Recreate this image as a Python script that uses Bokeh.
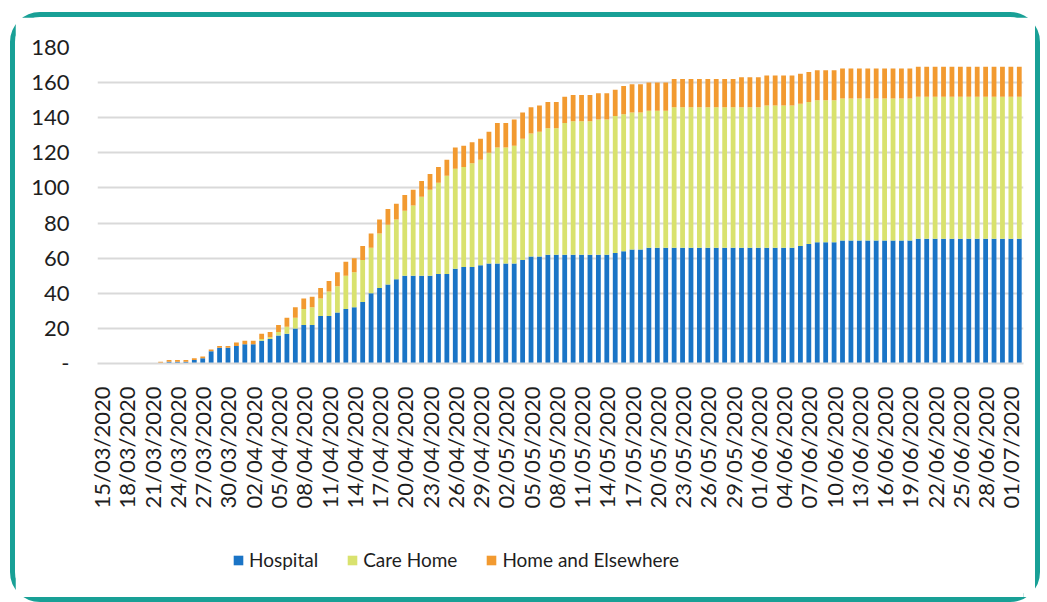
import math
import pandas as pd
from bokeh.plotting import figure
from bokeh.layouts import column
from bokeh.models import Range1d, Legend, LegendItem, ColumnDataSource, FixedTicker
from bokeh.embed import file_html
from bokeh.resources import INLINE

# ---- data (cumulative counts) ----
start_date = "2020-03-15"
hospital = [
    0, 0, 0, 0, 0, 0, 0, 0, 1, 1,
    1, 2, 3, 7, 9, 9, 10, 11, 11, 13,
    14, 16, 17, 20, 22, 22, 27, 27, 29, 31,
    32, 35, 40, 43, 45, 48, 50, 50, 50, 50,
    51, 51, 54, 55, 55, 56, 57, 57, 57, 57,
    59, 61, 61, 62, 62, 62, 62, 62, 62, 62,
    62, 63, 64, 65, 65, 66, 66, 66, 66, 66,
    66, 66, 66, 66, 66, 66, 66, 66, 66, 66,
    66, 66, 66, 67, 68, 69, 69, 69, 70, 70,
    70, 70, 70, 70, 70, 70, 70, 71, 71, 71,
    71, 71, 71, 71, 71, 71, 71, 71, 71, 71,
]
care_home = [
    0, 0, 0, 0, 0, 0, 0, 0, 0, 0,
    0, 0, 0, 0, 0, 0, 0, 0, 0, 1,
    1, 2, 4, 6, 9, 10, 10, 14, 15, 19,
    20, 24, 26, 31, 34, 34, 37, 40, 45, 49,
    52, 56, 57, 57, 59, 60, 63, 66, 66, 67,
    69, 70, 71, 72, 72, 75, 76, 76, 76, 77,
    77, 78, 78, 78, 78, 78, 78, 78, 80, 80,
    80, 80, 80, 80, 80, 80, 80, 80, 80, 81,
    81, 81, 81, 81, 81, 81, 81, 81, 81, 81,
    81, 81, 81, 81, 81, 81, 81, 81, 81, 81,
    81, 81, 81, 81, 81, 81, 81, 81, 81, 81,
]
home_elsewhere = [
    0, 0, 0, 0, 0, 0, 0, 1, 1, 1,
    1, 1, 1, 1, 1, 1, 2, 2, 2, 3,
    3, 4, 5, 6, 6, 6, 6, 6, 8, 8,
    8, 8, 8, 8, 9, 9, 9, 9, 9, 9,
    9, 9, 12, 12, 12, 12, 12, 14, 14, 15,
    15, 15, 15, 15, 15, 15, 15, 15, 15, 15,
    15, 15, 16, 16, 16, 16, 16, 16, 16, 16,
    16, 16, 16, 16, 16, 16, 17, 17, 17, 17,
    17, 17, 17, 17, 17, 17, 17, 17, 17, 17,
    17, 17, 17, 17, 17, 17, 17, 17, 17, 17,
    17, 17, 17, 17, 17, 17, 17, 17, 17, 17,
]
series_names = ["Hospital", "Care Home", "Home and Elsewhere"]
y_ticks = [0, 20, 40, 60, 80, 100, 120, 140, 160, 180]
label_every = 3

n = len(hospital)
dates = [d.strftime("%d/%m/%Y") for d in pd.date_range(start_date, periods=n, freq="D")]
day = list(range(n))
x_ticks = day[::label_every]

colors = ["#1a74c6", "#d9e26e", "#f29a30"]
FONT = "Lato"
TEXT = "#1e1e1e"
TEAL = "#18a096"
stackers = ["hospital", "care", "home"]

source = ColumnDataSource(dict(day=day, date=dates, hospital=hospital, care=care_home, home=home_elsewhere))

# ---- main chart ----
p = figure(
    x_range=Range1d(-0.5, n - 0.5),
    y_range=Range1d(0, 180),
    width=1020, height=513,
    output_backend="svg", toolbar_location=None,
    min_border_left=82, min_border_right=12, min_border_top=30, min_border_bottom=167,
)
p.outline_line_color = None
p.background_fill_color = "white"

rs = p.vbar_stack(stackers, x="day", width=0.57, source=source,
                  fill_color=colors, line_color=None)

p.yaxis.ticker = FixedTicker(ticks=y_ticks)
p.yaxis.major_label_overrides = {0: "-"}
p.yaxis.axis_line_color = None
p.yaxis.major_tick_line_color = None
p.yaxis.minor_tick_line_color = None
p.yaxis.major_label_standoff = 22
p.yaxis.major_label_text_font = FONT
p.yaxis.major_label_text_font_size = "22px"
p.yaxis.major_label_text_color = TEXT

p.xaxis.ticker = FixedTicker(ticks=x_ticks)
p.xaxis.major_label_overrides = {i: dates[i] for i in x_ticks}
p.xaxis.major_label_orientation = math.pi / 2
p.xaxis.axis_line_color = "#d9d9d9"
p.xaxis.axis_line_width = 2
p.xaxis.major_tick_line_color = None
p.xaxis.minor_tick_line_color = None
p.xaxis.major_label_standoff = 17
p.xaxis.major_label_text_font = FONT
p.xaxis.major_label_text_font_size = "22px"
p.xaxis.major_label_text_color = TEXT

p.xgrid.visible = False
p.ygrid.ticker = FixedTicker(ticks=y_ticks)
p.ygrid.grid_line_color = "#d9d9d9"
p.ygrid.grid_line_width = 2

# ---- legend strip: same stacked series (hidden), only their key is shown ----
lf = figure(
    x_range=Range1d(-0.5, n - 0.5), y_range=Range1d(0, 180),
    width=1020, height=67,
    output_backend="svg", toolbar_location=None,
    x_axis_type=None, y_axis_type=None,
    min_border=0, min_border_left=0, min_border_right=0, min_border_top=0, min_border_bottom=0,
)
lf.outline_line_color = None
lf.grid.visible = False
key_renderers = lf.vbar_stack(stackers, x="day", width=0.57, source=source,
                              fill_color=colors, line_color=None)
for r in key_renderers:
    r.visible = False

legend = Legend(
    items=[LegendItem(label=nm, renderers=[r]) for nm, r in zip(series_names, key_renderers)],
    orientation="horizontal", location=(135, 26),
    glyph_width=12, glyph_height=12, label_standoff=5, spacing=28,
    padding=0, margin=0, border_line_color=None, background_fill_alpha=0,
    label_text_font=FONT, label_text_font_size="19px", label_text_color=TEXT,
)
lf.add_layout(legend)

layout = column(p, lf, width=1030, height=590, spacing=0,
                styles={"border": "5px solid " + TEAL, "border-radius": "30px",
                        "margin": "12px 0 0 10px", "background": "white"})

open("out.html", "w").write(file_html(layout, INLINE))
